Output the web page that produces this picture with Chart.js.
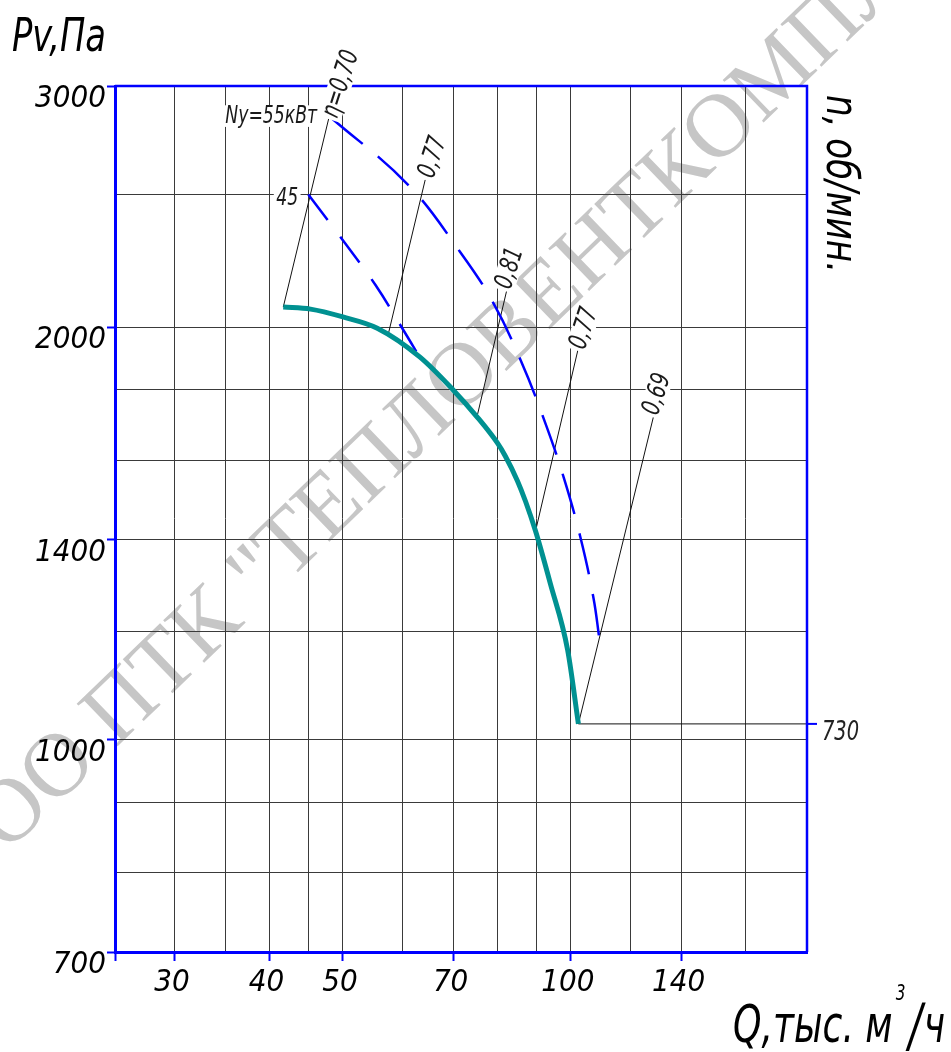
<!DOCTYPE html>
<html>
<head>
<meta charset="utf-8">
<script src="https://cdn.jsdelivr.net/npm/chart.js@4.4.1/dist/chart.umd.min.js"></script>
<style>
    html, body { margin: 0; padding: 0; background: #fff; overflow: hidden; }
    #wrap { width: 951px; height: 1052px; }
</style>
</head>
<body>
<div id="wrap"><canvas id="fanChart" width="951" height="1052"></canvas></div>
<script>
// Grid and tick values (both axes are logarithmic)
const qGrid = [25, 30, 35, 40, 45, 50, 60, 70, 80, 90, 100, 120, 140, 170];
const qLabels = [30, 40, 50, 70, 100, 140];
const pGrid = [700, 800, 900, 1000, 1200, 1400, 1600, 1800, 2000, 2500, 3000];
const pLabels = [700, 1000, 1400, 2000, 3000];

// Pv(Q) curve, n = 730 rpm
const pressureQ = [41.7, 45.3, 50.0, 55.5, 63.2, 69.9, 75.2, 80.0, 81.9, 85.0, 87.1, 89.8, 93.9, 99.0, 102.3];
const pressureP = [2069, 2062, 2035, 1997, 1902, 1800, 1720, 1646, 1611, 1545, 1493, 1420, 1301, 1163, 1027];

// Power lines Ny = 55 kW and 45 kW
const power55Q = [48.1, 61.0, 71.4, 79.0, 85.8, 92.0, 97.8, 103.0, 107.1, 109.1];
const power55P = [2848, 2540, 2270, 2083, 1893, 1717, 1555, 1403, 1269, 1182];
const power45Q = [45.0, 50.3, 55.2, 60.1, 63.2];
const power45P = [2500, 2304, 2147, 1990, 1900];

// Efficiency labels and their leader lines (label end -> point on curve)
const etaLabels = ['η=0,70', '0,77', '0,81', '0,77', '0,69'];
const etaTextQ = [49.6, 65.6, 82.9, 103.9, 129.7];
const etaTextP = [3010, 2662, 2209, 1997, 1788];
const etaFromQ = [47.9, 64.2, 82.7, 102.3, 128.5];
const etaFromP = [2843, 2562, 2154, 1932, 1720];
const etaToQ = [41.7, 57.4, 75.2, 89.8, 102.3];
const etaToP = [2069, 1978, 1723, 1420, 1027];

// Power labels
const powerLabels = ['Ny=55кВт', '45'];
const powerLabelQ = [40.2, 42.2];
const powerLabelP = [2852, 2485];

// Speed line
const rpm = 730;
const rpmLineQ = [102.3, 205];
const rpmLineP = [1027, 1027];

const FONT = "'DejaVu Sans Condensed', 'DejaVu Sans', sans-serif";
const BLUE = '#0000ff';
const toPoints = (xs, ys) => xs.map((x, i) => ({ x: x, y: ys[i] }));

// text squeezed horizontally, on a white box
function boxedText(c, text, x, y, angle, size) {
    c.save();
    c.translate(x, y);
    c.rotate(angle);
    c.scale(0.8, 1);
    c.font = `italic ${size}px ${FONT}`;
    const w = c.measureText(text).width;
    c.fillStyle = '#fff';
    c.fillRect(-w / 2 - 3, -size * 0.45, w + 6, size * 0.9);
    c.fillStyle = '#1a1a1a';
    c.textAlign = 'center';
    c.textBaseline = 'middle';
    c.fillText(text, 0, 1);
    c.restore();
}

// draws a sequence of [text, fontSize, dy, gapAfter] parts fitted into a given width
function fittedParts(c, parts, width) {
    let total = 0;
    parts.forEach(p => {
        c.font = `italic ${p[1]}px ${FONT}`;
        total += c.measureText(p[0]).width + p[3];
    });
    c.scale(width / total, 1);
    let x = 0;
    parts.forEach(p => {
        c.font = `italic ${p[1]}px ${FONT}`;
        c.fillText(p[0], x, p[2]);
        x += c.measureText(p[0]).width + p[3];
    });
}

const overlay = {
    id: 'overlay',
    beforeDraw(chart) {
        // faint watermark behind the chart
        const c = chart.ctx;
        c.save();
        c.translate(-57, 882);
        c.rotate(-44 * Math.PI / 180);
        c.font = "90px 'Liberation Serif', serif";
        c.fillStyle = '#c6c6c6';
        c.textBaseline = 'middle';
        c.fillText('ООО ПТК "ТЕПЛОВЕНТКОМПЛЕКТ"', 0, 0);
        c.restore();
    },
    afterDraw(chart) {
        const c = chart.ctx, xs = chart.scales.x, ys = chart.scales.y, a = chart.chartArea;
        c.save();

        // top and right frame
        c.strokeStyle = BLUE;
        c.lineWidth = 2.5;
        c.beginPath();
        c.moveTo(a.left, a.top);
        c.lineTo(a.right, a.top);
        c.lineTo(a.right, a.bottom);
        c.stroke();

        // rpm tick on the right axis
        const yr = ys.getPixelForValue(rpmLineP[0]);
        c.lineWidth = 2;
        c.beginPath();
        c.moveTo(a.right, yr);
        c.lineTo(a.right + 10, yr);
        c.stroke();
        c.save();
        c.translate(a.right + 15, yr + 9);
        c.scale(0.8, 1);
        c.fillStyle = '#222';
        c.font = `italic 27px ${FONT}`;
        c.textBaseline = 'middle';
        c.fillText(String(rpm), 0, 0);
        c.restore();

        // efficiency labels
        etaLabels.forEach((t, i) => {
            boxedText(c, t, xs.getPixelForValue(etaTextQ[i]), ys.getPixelForValue(etaTextP[i]),
                -72 * Math.PI / 180, 26);
        });
        // power labels
        powerLabels.forEach((t, i) => {
            boxedText(c, t, xs.getPixelForValue(powerLabelQ[i]), ys.getPixelForValue(powerLabelP[i]),
                0, 24);
        });

        // axis titles
        c.fillStyle = '#000';
        c.textAlign = 'left';
        c.textBaseline = 'alphabetic';

        c.save();
        c.translate(12, 51);
        fittedParts(c, [['Pv,Па', 46, 0, 0]], 94);
        c.restore();

        c.save();
        c.translate(733, 1042);
        fittedParts(c, [
            ['Q,тыс. м', 52, 0, 4],
            ['3', 22, -42, 4],
            ['/', 58, 4, 2],
            ['ч', 52, 0, 0]
        ], 212);
        c.restore();

        c.save();
        c.translate(827, 95);
        c.rotate(Math.PI / 2);
        fittedParts(c, [['n, об/мин.', 44, 0, 0]], 178);
        c.restore();

        c.restore();
    }
};

const leaderSets = etaFromQ.map((q, i) => ({
    data: [{ x: q, y: etaFromP[i] }, { x: etaToQ[i], y: etaToP[i] }],
    borderColor: '#111',
    borderWidth: 1,
    pointRadius: 0
}));

new Chart(document.getElementById('fanChart'), {
    type: 'line',
    data: {
        datasets: [
            {
                // pressure curve (drawn on top)
                data: toPoints(pressureQ, pressureP),
                borderColor: '#009191',
                borderWidth: 5,
                pointRadius: 0,
                cubicInterpolationMode: 'monotone'
            },
            {
                data: toPoints(power55Q, power55P),
                borderColor: BLUE,
                borderWidth: 2.5,
                borderDash: [42, 20],
                pointRadius: 0,
                tension: 0.4
            },
            {
                data: toPoints(power45Q, power45P),
                borderColor: BLUE,
                borderWidth: 2.5,
                borderDash: [32, 21],
                pointRadius: 0,
                tension: 0.4
            },
            {
                data: toPoints(rpmLineQ, rpmLineP),
                borderColor: '#111',
                borderWidth: 1,
                pointRadius: 0
            },
            ...leaderSets
        ]
    },
    options: {
        responsive: false,
        animation: false,
        events: [],
        layout: { padding: { top: 86, right: 144, left: 0, bottom: 0 } },
        plugins: {
            legend: { display: false },
            tooltip: { enabled: false }
        },
        scales: {
            x: {
                type: 'logarithmic',
                min: 25,
                max: 205,
                afterBuildTicks: scale => { scale.ticks = qGrid.map(v => ({ value: v })); },
                afterFit: scale => { scale.height = 100; },
                border: { color: BLUE, width: 3 },
                grid: {
                    color: '#3a3a3a',
                    lineWidth: 1,
                    tickLength: 9,
                    tickWidth: 2,
                    tickColor: ctx => (ctx.tick && (qLabels.includes(ctx.tick.value) || ctx.tick.value === 25)) ? BLUE : 'rgba(0,0,0,0)'
                },
                ticks: {
                    autoSkip: false,
                    maxRotation: 0,
                    padding: 3,
                    labelOffset: -3,
                    color: '#000',
                    font: { family: FONT, size: 31, style: 'italic' },
                    callback: v => qLabels.includes(v) ? String(v) : ''
                }
            },
            y: {
                type: 'logarithmic',
                min: 700,
                max: 3000,
                afterBuildTicks: scale => { scale.ticks = pGrid.map(v => ({ value: v })); },
                afterFit: scale => { scale.width = 115; },
                border: { color: BLUE, width: 3 },
                grid: {
                    color: '#3a3a3a',
                    lineWidth: 1,
                    tickLength: 8,
                    tickWidth: 2,
                    tickColor: ctx => (ctx.tick && pLabels.includes(ctx.tick.value)) ? BLUE : 'rgba(0,0,0,0)'
                },
                ticks: {
                    autoSkip: false,
                    padding: 1,
                    labelOffset: 13,
                    color: '#000',
                    font: { family: FONT, size: 31, style: 'italic' },
                    callback: v => pLabels.includes(v) ? String(v) : ''
                }
            }
        }
    },
    plugins: [overlay]
});
</script>
</body>
</html>
